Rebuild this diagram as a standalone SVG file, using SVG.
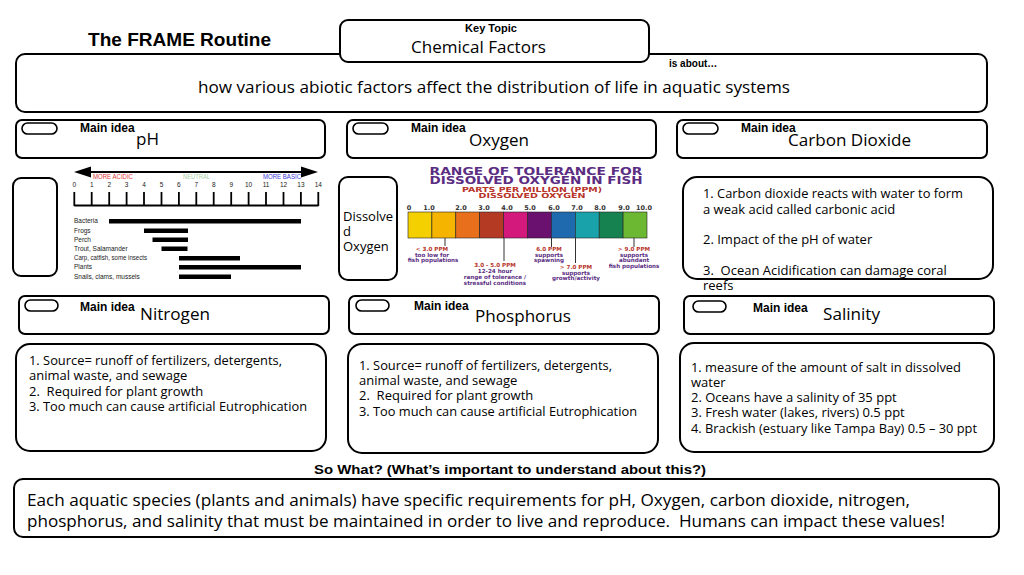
<svg xmlns="http://www.w3.org/2000/svg" width="1024" height="575" viewBox="0 0 1024 575">
<style>
.box{fill:#fff;stroke:#000;stroke-width:2}
.pill{fill:#fff;stroke:#000;stroke-width:1.6}
.hb{font-family:"Liberation Sans",Arial,sans-serif;font-weight:bold;fill:#000}
.t{font-family:"Open Sans","Noto Sans",sans-serif;fill:#000}
.mi{font-family:"Liberation Sans",Arial,sans-serif;font-weight:bold;font-size:12px;fill:#000}
.c{font-family:"Open Sans","Noto Sans",sans-serif;font-size:13px;fill:#000}
.ph{font-family:"Liberation Sans",Arial,sans-serif;font-size:6.5px;fill:#222}
.ox{font-family:"DejaVu Sans",Verdana,sans-serif;font-weight:bold;font-size:5.6px;text-anchor:middle}
.red{fill:#b8342a}
.pur{fill:#5b2d82}
</style>
<rect width="1024" height="575" fill="#fff"/>

<text class="hb" x="88" y="46" font-size="18" textLength="183" lengthAdjust="spacingAndGlyphs">The FRAME Routine</text>

<g id="about">
<rect class="box" x="16" y="54" width="971" height="58" rx="9"/>
<text class="hb" x="669" y="67" font-size="10">is about…</text>
<text class="t" x="198" y="93" font-size="17" textLength="592" lengthAdjust="spacingAndGlyphs">how various abiotic factors affect the distribution of life in aquatic systems</text>
</g>

<g id="key-topic">
<rect class="box" x="340" y="20" width="309" height="42" rx="8"/>
<text class="hb" x="491" y="32" font-size="11" text-anchor="middle">Key Topic</text>
<text class="t" x="411" y="53" font-size="16.5" textLength="135" lengthAdjust="spacingAndGlyphs">Chemical Factors</text>
</g>

<g id="main-ph">
<rect class="box" x="16" y="120" width="309" height="38" rx="6"/>
<rect class="pill" x="22" y="123" width="35" height="11" rx="5.5"/>
<text class="mi" x="80" y="132">Main idea</text>
<text class="t" x="136" y="145" font-size="17">pH</text>
</g>
<g id="main-oxygen">
<rect class="box" x="347" y="120" width="309" height="38" rx="6"/>
<rect class="pill" x="353" y="123" width="35" height="11" rx="5.5"/>
<text class="mi" x="411" y="132">Main idea</text>
<text class="t" x="469" y="146" font-size="17" textLength="60" lengthAdjust="spacingAndGlyphs">Oxygen</text>
</g>
<g id="main-co2">
<rect class="box" x="677" y="120" width="310" height="38" rx="6"/>
<rect class="pill" x="683" y="123" width="35" height="11" rx="5.5"/>
<text class="mi" x="741" y="132">Main idea</text>
<text class="t" x="788" y="146" font-size="17" textLength="123" lengthAdjust="spacingAndGlyphs">Carbon Dioxide</text>
</g>

<g id="ph-side">
<rect class="box" x="13" y="178" width="44" height="98" rx="8"/>
</g>

<g id="ph-chart">
<line x1="84" y1="172" x2="308" y2="172" stroke="#000" stroke-width="2"/>
<polygon points="74,172 91,166.5 91,177.5" fill="#000"/>
<polygon points="318,172 301,166.5 301,177.5" fill="#000"/>
<text x="93" y="179" font-family="Liberation Sans,Arial,sans-serif" font-size="7" fill="#e03838" textLength="40" lengthAdjust="spacingAndGlyphs">MORE ACIDIC</text>
<text x="183" y="179" font-family="Liberation Sans,Arial,sans-serif" font-size="7" fill="#a8cfa8" textLength="27" lengthAdjust="spacingAndGlyphs">NEUTRAL</text>
<text x="263" y="179" font-family="Liberation Sans,Arial,sans-serif" font-size="7" fill="#3a3adc" textLength="38" lengthAdjust="spacingAndGlyphs">MORE BASIC</text>
<g font-family="Liberation Sans,Arial,sans-serif" font-size="6.5" fill="#222" text-anchor="middle">
<text x="74.3" y="187">0</text><text x="91.7" y="187">1</text><text x="109.2" y="187">2</text><text x="126.6" y="187">3</text><text x="144" y="187">4</text><text x="161.5" y="187">5</text><text x="178.9" y="187">6</text><text x="196.3" y="187">7</text><text x="213.7" y="187">8</text><text x="231.2" y="187">9</text><text x="248.6" y="187">10</text><text x="266" y="187">11</text><text x="283.5" y="187">12</text><text x="300.9" y="187">13</text><text x="318.3" y="187">14</text>
</g>
<g stroke="#000" stroke-width="1.8">
<line x1="74.3" y1="205.5" x2="318.3" y2="205.5"/>
<line x1="74.3" y1="192" x2="74.3" y2="206"/><line x1="91.7" y1="192" x2="91.7" y2="206"/><line x1="109.2" y1="192" x2="109.2" y2="206"/><line x1="126.6" y1="192" x2="126.6" y2="206"/><line x1="144" y1="192" x2="144" y2="206"/><line x1="161.5" y1="192" x2="161.5" y2="206"/><line x1="178.9" y1="192" x2="178.9" y2="206"/><line x1="196.3" y1="192" x2="196.3" y2="206"/><line x1="213.7" y1="192" x2="213.7" y2="206"/><line x1="231.2" y1="192" x2="231.2" y2="206"/><line x1="248.6" y1="192" x2="248.6" y2="206"/><line x1="266" y1="192" x2="266" y2="206"/><line x1="283.5" y1="192" x2="283.5" y2="206"/><line x1="300.9" y1="192" x2="300.9" y2="206"/><line x1="318.3" y1="192" x2="318.3" y2="206"/>
</g>
<text class="ph" x="74" y="223">Bacteria</text>
<text class="ph" x="74" y="232.5">Frogs</text>
<text class="ph" x="74" y="241.5">Perch</text>
<text class="ph" x="74" y="250.5">Trout, Salamander</text>
<text class="ph" x="74" y="260" textLength="73" lengthAdjust="spacingAndGlyphs">Carp, catfish, some insects</text>
<text class="ph" x="74" y="269">Plants</text>
<text class="ph" x="74" y="278.5">Snails, clams, mussels</text>
<g fill="#000">
<rect x="109" y="219" width="192" height="4.5"/>
<rect x="144" y="228.5" width="44" height="4.5"/>
<rect x="152.5" y="237.5" width="35.5" height="4.5"/>
<rect x="161.5" y="246.5" width="26" height="4.5"/>
<rect x="179" y="256" width="61" height="4.5"/>
<rect x="179" y="265" width="122" height="4.5"/>
<rect x="179" y="274.5" width="52" height="4.5"/>
</g>
</g>

<g id="do-side">
<rect class="box" x="339" y="177" width="58" height="103" rx="9"/>
<text class="c" x="343" y="221">Dissolve</text>
<text class="c" x="343" y="236">d</text>
<text class="c" x="343" y="251">Oxygen</text>
</g>

<g id="oxygen-chart">
<text class="pur" x="536" y="174.5" text-anchor="middle" font-family="DejaVu Sans,Verdana,sans-serif" font-weight="bold" font-size="10.5" textLength="213" lengthAdjust="spacingAndGlyphs">RANGE OF TOLERANCE FOR</text>
<text class="pur" x="536" y="184" text-anchor="middle" font-family="DejaVu Sans,Verdana,sans-serif" font-weight="bold" font-size="10.5" textLength="213" lengthAdjust="spacingAndGlyphs">DISSOLVED OXYGEN IN FISH</text>
<text class="red" x="532" y="192" text-anchor="middle" font-family="DejaVu Sans,Verdana,sans-serif" font-weight="bold" font-size="7" textLength="140" lengthAdjust="spacingAndGlyphs">PARTS PER MILLION (PPM)</text>
<text class="red" x="532" y="198" text-anchor="middle" font-family="DejaVu Sans,Verdana,sans-serif" font-weight="bold" font-size="7" textLength="107" lengthAdjust="spacingAndGlyphs">DISSOLVED OXYGEN</text>
<g font-family="DejaVu Sans,Verdana,sans-serif" font-weight="bold" font-size="6.5" fill="#333" text-anchor="middle">
<text x="409" y="210">0</text><text x="429" y="210">1.0</text><text x="461" y="210">2.0</text><text x="484" y="210">3.0</text><text x="507" y="210">4.0</text><text x="530" y="210">5.0</text><text x="554" y="210">6.0</text><text x="577" y="210">7.0</text><text x="600" y="210">8.0</text><text x="624" y="210">9.0</text><text x="644" y="210">10.0</text>
</g>
<g stroke="#222" stroke-width="0.6">
<rect x="408" y="212" width="23.9" height="26" fill="#f5d000"/>
<rect x="431.9" y="212" width="23.9" height="26" fill="#f5b400"/>
<rect x="455.8" y="212" width="23.9" height="26" fill="#e8701c"/>
<rect x="479.7" y="212" width="23.9" height="26" fill="#b53a24"/>
<rect x="503.6" y="212" width="23.9" height="26" fill="#d4197c"/>
<rect x="527.5" y="212" width="23.9" height="26" fill="#6a106e"/>
<rect x="551.4" y="212" width="23.9" height="26" fill="#1f6aae"/>
<rect x="575.3" y="212" width="23.9" height="26" fill="#19a2aa"/>
<rect x="599.2" y="212" width="23.9" height="26" fill="#168250"/>
<rect x="623.1" y="212" width="23.9" height="26" fill="#6cb832"/>
</g>
<g stroke="#333" stroke-width="1">
<line x1="445" y1="238" x2="445" y2="246"/>
<line x1="504" y1="238" x2="504" y2="261"/>
<line x1="551.5" y1="238" x2="551.5" y2="247"/>
<line x1="575.5" y1="238" x2="575.5" y2="263"/>
<line x1="634" y1="238" x2="634" y2="247"/>
</g>
<text class="ox red" x="432" y="251">&lt; 3.0 PPM</text>
<text class="ox pur" x="432" y="256.5">too low for</text>
<text class="ox pur" x="433" y="262">fish populations</text>
<text class="ox red" x="495" y="267">3.0 - 5.0 PPM</text>
<text class="ox pur" x="495" y="273">12-24 hour</text>
<text class="ox pur" x="495" y="279">range of tolerance /</text>
<text class="ox pur" x="495" y="285">stressful conditions</text>
<text class="ox red" x="549" y="251">6.0 PPM</text>
<text class="ox pur" x="549" y="256.5">supports</text>
<text class="ox pur" x="549" y="262">spawning</text>
<text class="ox red" x="576" y="269">&gt; 7.0 PPM</text>
<text class="ox pur" x="576" y="274.5">supports</text>
<text class="ox pur" x="576" y="280">growth/activity</text>
<text class="ox red" x="634" y="251">&gt; 9.0 PPM</text>
<text class="ox pur" x="634" y="256.5">supports</text>
<text class="ox pur" x="634" y="262">abundant</text>
<text class="ox pur" x="634" y="268">fish populations</text>
</g>

<g id="co2-content">
<rect class="box" x="683" y="177" width="310" height="102" rx="14"/>
<text class="c" x="703" y="198" textLength="260" lengthAdjust="spacingAndGlyphs">1. Carbon dioxide reacts with water to form</text>
<text class="c" x="703" y="214">a weak acid called carbonic acid</text>
<text class="c" x="703" y="244">2. Impact of the pH of water</text>
<text class="c" x="703" y="275" xml:space="preserve">3.  Ocean Acidification can damage coral</text>
<text class="c" x="703" y="290">reefs</text>
</g>

<g id="main-nitrogen">
<rect class="box" x="19" y="296" width="310" height="38" rx="6"/>
<rect class="pill" x="25" y="300" width="33" height="11" rx="5.5"/>
<text class="mi" x="80" y="311">Main idea</text>
<text class="t" x="140" y="320" font-size="17" textLength="70" lengthAdjust="spacingAndGlyphs">Nitrogen</text>
</g>
<g id="main-phosphorus">
<rect class="box" x="349" y="296" width="310" height="38" rx="6"/>
<rect class="pill" x="356" y="300" width="33" height="11" rx="5.5"/>
<text class="mi" x="414" y="310">Main idea</text>
<text class="t" x="475" y="322" font-size="17" textLength="96" lengthAdjust="spacingAndGlyphs">Phosphorus</text>
</g>
<g id="main-salinity">
<rect class="box" x="684" y="296" width="310" height="38" rx="6"/>
<rect class="pill" x="693" y="301" width="33" height="11" rx="5.5"/>
<text class="mi" x="753" y="312">Main idea</text>
<text class="t" x="823" y="320" font-size="17" textLength="57" lengthAdjust="spacingAndGlyphs">Salinity</text>
</g>

<g id="nitrogen-content">
<rect class="box" x="16" y="344" width="310" height="107" rx="14"/>
<text class="c" x="29" y="365" textLength="253" lengthAdjust="spacingAndGlyphs">1. Source= runoff of fertilizers, detergents,</text>
<text class="c" x="29" y="380">animal waste, and sewage</text>
<text class="c" x="29" y="396" xml:space="preserve">2.  Required for plant growth</text>
<text class="c" x="29" y="411" textLength="278" lengthAdjust="spacingAndGlyphs">3. Too much can cause artificial Eutrophication</text>
</g>
<g id="phosphorus-content">
<rect class="box" x="348" y="344" width="310" height="109" rx="14"/>
<text class="c" x="359" y="370" textLength="253" lengthAdjust="spacingAndGlyphs">1. Source= runoff of fertilizers, detergents,</text>
<text class="c" x="359" y="385">animal waste, and sewage</text>
<text class="c" x="359" y="400" xml:space="preserve">2.  Required for plant growth</text>
<text class="c" x="359" y="416" textLength="278" lengthAdjust="spacingAndGlyphs">3. Too much can cause artificial Eutrophication</text>
</g>
<g id="salinity-content">
<rect class="box" x="680" y="343" width="314" height="109" rx="14"/>
<text class="c" x="691" y="372" textLength="270" lengthAdjust="spacingAndGlyphs">1. measure of the amount of salt in dissolved</text>
<text class="c" x="691" y="387">water</text>
<text class="c" x="691" y="402">2. Oceans have a salinity of 35 ppt</text>
<text class="c" x="691" y="417">3. Fresh water (lakes, rivers) 0.5 ppt</text>
<text class="c" x="691" y="433" textLength="286" lengthAdjust="spacingAndGlyphs">4. Brackish (estuary like Tampa Bay) 0.5 – 30 ppt</text>
</g>

<text class="hb" x="510" y="474" font-size="13" text-anchor="middle" textLength="392" lengthAdjust="spacingAndGlyphs">So What? (What’s important to understand about this?)</text>

<g id="so-what">
<rect class="box" x="14" y="479" width="985" height="58" rx="9"/>
<text class="t" x="27" y="506" font-size="17" textLength="883" lengthAdjust="spacingAndGlyphs">Each aquatic species (plants and animals) have specific requirements for pH, Oxygen, carbon dioxide, nitrogen,</text>
<text class="t" x="27" y="527" font-size="17" textLength="918" lengthAdjust="spacingAndGlyphs" xml:space="preserve">phosphorus, and salinity that must be maintained in order to live and reproduce.  Humans can impact these values!</text>
</g>
</svg>
